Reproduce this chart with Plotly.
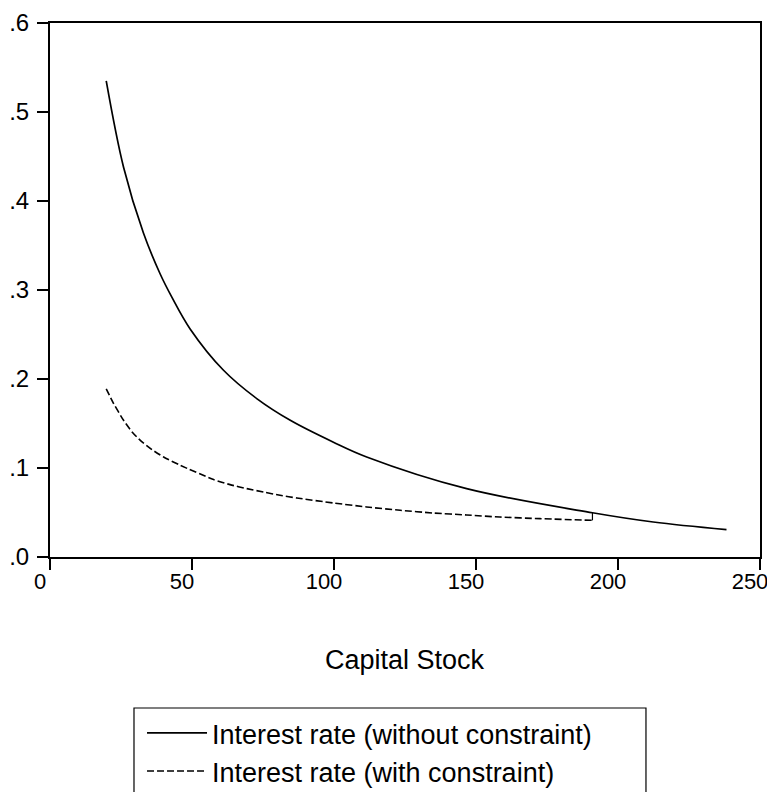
import plotly.graph_objects as go

# ---- data ----
capital_free = [19.8, 25.9, 32.9, 38.8, 42.9, 49.4, 61.1, 72.8, 84.6, 99.8, 111.5,
                146.7, 191.0, 212.4, 238.2]
rate_free = [0.535, 0.438, 0.364, 0.318, 0.292, 0.256, 0.2098, 0.178, 0.1536, 0.129, 0.1124,
             0.0768, 0.0497, 0.0393, 0.0308]

capital_con = [19.8, 22.4, 25.9, 28.9, 31.8, 35.9, 40.0, 45.9, 57.6, 63.4, 69.3, 75.2, 81.0,
               86.9, 99.8, 111.5, 123.3, 135.0, 146.7, 158.4, 172.5, 191.0]
rate_con = [0.189, 0.1724, 0.1536, 0.1405, 0.131, 0.1207, 0.1124, 0.103, 0.087, 0.0813,
            0.0768, 0.073, 0.0693, 0.0663, 0.0607, 0.0562, 0.0525, 0.0494, 0.0472, 0.0449,
            0.0431, 0.0412]
# end of the constrained path joins the unconstrained curve
jump_capital = [191.0, 191.0]
jump_rate = [0.0412, 0.0497]

x_ticks = [0, 50, 100, 150, 200, 250]
y_ticks = [0.0, 0.1, 0.2, 0.3, 0.4, 0.5, 0.6]
y_ticktext = [".0", ".1", ".2", ".3", ".4", ".5", ".6"]

FONT = "Liberation Sans, Arial, Helvetica, sans-serif"

fig = go.Figure()
fig.add_trace(go.Scatter(
    x=capital_free, y=rate_free, mode="lines",
    name="Interest rate (without constraint)",
    line=dict(color="black", width=1.7, shape="spline", smoothing=1.0),
))
fig.add_trace(go.Scatter(
    x=capital_con, y=rate_con, mode="lines",
    name="Interest rate (with constraint)",
    legendgroup="con",
    line=dict(color="black", width=1.6, dash="7px,3px", shape="spline", smoothing=0.6),
))
fig.add_trace(go.Scatter(
    x=jump_capital, y=jump_rate, mode="lines", showlegend=False, legendgroup="con",
    line=dict(color="black", width=1.2),
))

# page body adds an 8px offset; plot area in page coords: x 50-760, y 23-557
fig.update_layout(
    width=767, height=784,
    margin=dict(l=42, r=15, t=15, b=235, pad=0, autoexpand=False),
    paper_bgcolor="white", plot_bgcolor="white",
    font=dict(family=FONT, color="black", size=24),
    showlegend=True,
    legend=dict(
        x=0.1296, xanchor="left", y=-0.2845, yanchor="top",
        borderwidth=0, bgcolor="rgba(0,0,0,0)",
        font=dict(size=27, family=FONT, color="black"),
        itemwidth=60, tracegroupgap=0,
    ),
    xaxis=dict(
        range=[0, 250], tickvals=x_ticks, ticks="outside", ticklen=11, tickwidth=1.5,
        tickcolor="black", showline=True, linecolor="black", linewidth=2, mirror=True,
        showgrid=False, zeroline=False, tickfont=dict(size=22), automargin=False,
        ticklabelstandoff=-7, ticklabelshift=-10, ticklabeloverflow="allow",
    ),
    yaxis=dict(
        range=[0, 0.6], tickvals=y_ticks, ticktext=y_ticktext, ticks="outside", ticklen=11,
        tickwidth=1.5, tickcolor="black", showline=True, linecolor="black", linewidth=2,
        mirror=True, showgrid=False, zeroline=False, tickfont=dict(size=24), automargin=False,
        ticklabelstandoff=3, ticklabeloverflow="allow",
    ),
    annotations=[dict(
        text="Capital Stock", xref="paper", yref="paper", x=0.5, y=-0.1929,
        xanchor="center", yanchor="middle", showarrow=False,
        font=dict(size=27, family=FONT, color="black"),
    )],
    shapes=[dict(
        type="rect", xref="paper", yref="paper",
        x0=0.1183, x1=0.8394, y0=-0.2828, y1=-0.47,
        line=dict(color="black", width=1.2), fillcolor="rgba(0,0,0,0)",
    )],
)

fig.write_html("out.html")
